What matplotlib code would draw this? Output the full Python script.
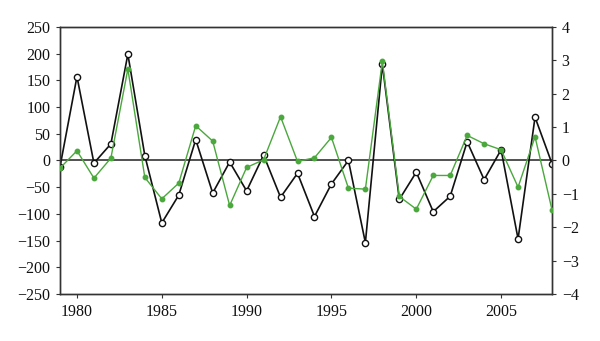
import numpy as np
import matplotlib.pyplot as plt

plt.rcParams['font.family'] = ['Liberation Serif', 'DejaVu Serif']

years = list(range(1979, 2009))

# left axis series (open circles)
black_vals = [-12, 157, -5, 31, 199, 9, -117, -65, 39, -61,
              -3, -57, 10, -69, -24, -105, -44, 0, -154, 180,
              -73, -22, -96, -67, 35, -36, 20, -147, 81, -6]

# right axis series (filled dots)
green_vals = [-0.23, 0.29, -0.53, 0.07, 2.74, -0.51, -1.15, -0.68, 1.04, 0.58,
              -1.35, -0.21, 0.02, 1.31, -0.03, 0.08, 0.69, -0.83, -0.86, 2.97,
              -1.08, -1.46, -0.45, -0.45, 0.75, 0.50, 0.32, -0.80, 0.71, -1.48]

spine_col = '#333333'
green = '#4aa83c'

fig = plt.figure(figsize=(6, 3.41), dpi=100)
ax = fig.add_axes([0.1, 0.138, 0.82, 0.783])
ax2 = ax.twinx()

ax.axhline(0, color=spine_col, lw=1.2, zorder=1)
ax.plot(years, black_vals, color='#111111', lw=1.2, marker='o', ms=4.5,
        mfc='white', mec='#111111', mew=1.0, zorder=3)
ax2.plot(years, green_vals, color=green, lw=1.0, marker='o', ms=3.2,
         mfc=green, mec=green, zorder=3)

ax.set_xlim(1979, 2008)
ax.set_ylim(-250, 250)
ax.set_yticks(np.arange(-250, 251, 50))
ax.set_xticks([1980, 1985, 1990, 1995, 2000, 2005])
ax2.set_ylim(-4, 4)
ax2.set_yticks(np.arange(-4, 5, 1))

for a in (ax, ax2):
    for s in a.spines.values():
        s.set_color(spine_col)
        s.set_linewidth(1.0)
    a.tick_params(direction='out', length=3, width=0.8, colors=spine_col,
                  labelcolor='#111111', labelsize=11.5, pad=4)

plt.savefig('out.png', dpi=100)
